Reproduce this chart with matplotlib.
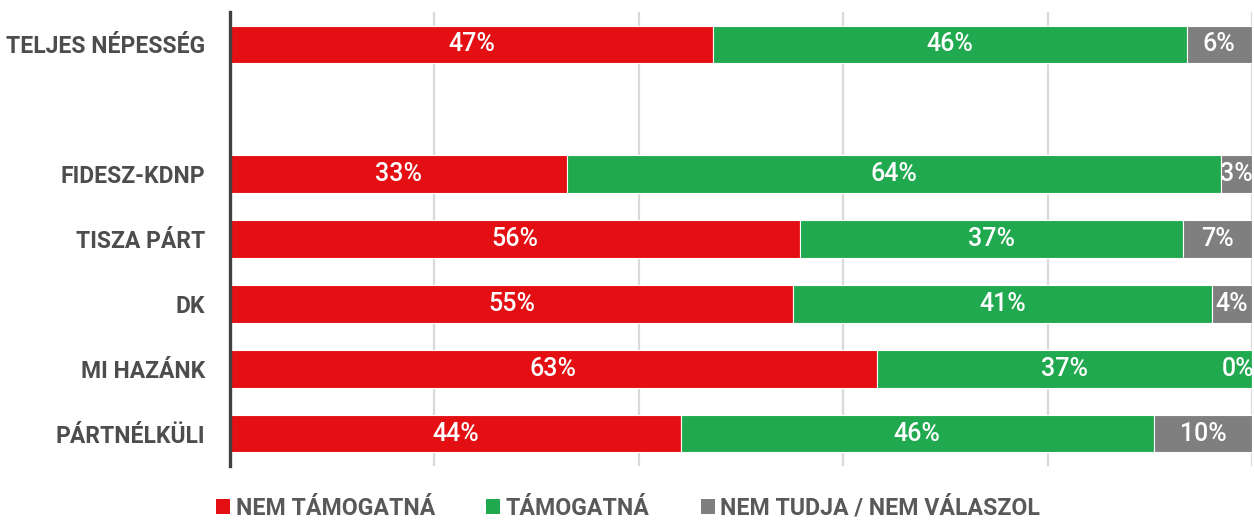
import matplotlib
matplotlib.use("Agg")
import matplotlib.pyplot as plt
from matplotlib.patches import Patch
import numpy as np

categories = ["TELJES NÉPESSÉG", "", "FIDESZ-KDNP", "TISZA PÁRT", "DK", "MI HAZÁNK", "PÁRTNÉLKÜLI"]
nem_tamogatna = [47.3, np.nan, 33.0, 55.8, 55.1, 63.3, 44.1]
tamogatna = [46.3, np.nan, 64.0, 37.4, 41.0, 36.7, 46.3]
nem_tudja = [6.4, np.nan, 3.0, 6.8, 3.9, 0.0, 9.6]
series_names = ["NEM TÁMOGATNÁ", "TÁMOGATNÁ", "NEM TUDJA / NEM VÁLASZOL"]
colors = ["#E30F13", "#21A94F", "#7F7F7F"]
xticks = [0, 20, 40, 60, 80, 100]

plt.rcParams['font.family'] = ['Roboto', 'DejaVu Sans']

fig = plt.figure(figsize=(12.54, 5.22), dpi=100)
ax = fig.add_axes([230/1254, 1 - 466/522, (1252-230)/1254, (466-12)/522])

y = np.arange(len(categories))
left = np.zeros(len(categories))
for vals, col in zip([nem_tamogatna, tamogatna, nem_tudja], colors):
    v = np.array(vals, dtype=float)
    mask = ~np.isnan(v)
    ax.barh(y[mask], v[mask], left=left[mask], height=0.58, color=col,
            edgecolor="white", linewidth=0.8, zorder=3)
    for yi, li, vi in zip(y[mask], left[mask], v[mask]):
        cx = min(li + vi / 2, 98.6)
        ax.text(cx, yi, f"{vi:.0f}%", ha="center", va="center", color="white",
                fontsize=18, fontweight="medium", zorder=4)
    left[mask] = left[mask] + v[mask]

ax.set_xlim(0, 100)
ax.set_ylim(len(categories) - 0.5, -0.5)
ax.set_xticks(xticks)
ax.set_xticklabels([])
ax.tick_params(axis="x", length=0)
ax.tick_params(axis="y", length=0, pad=18)
ax.set_yticks(y)
ax.set_yticklabels(categories, fontsize=16.5, fontweight="bold", color="#4D4D4D")
ax.grid(axis="x", color="#D9D9D9", linewidth=1.6, zorder=0)
for s in ["top", "right", "bottom"]:
    ax.spines[s].set_visible(False)
ax.spines["left"].set_color("#404040")
ax.spines["left"].set_linewidth(2.4)
ax.spines["left"].set_zorder(5)

handles = [Patch(facecolor=c, edgecolor="none") for c in colors]
leg = fig.legend(handles, series_names, loc="lower left", bbox_to_anchor=(216/1254, 0.004),
                 ncol=3, frameon=False, handlelength=0.6, handleheight=0.6,
                 handletextpad=0.25, columnspacing=2.2, borderpad=0.0, borderaxespad=0.0,
                 prop={"family": ["Roboto", "DejaVu Sans"], "size": 16.7, "weight": "bold"})
for t in leg.get_texts():
    t.set_color("#595959")

fig.savefig("out.png", dpi=100)
